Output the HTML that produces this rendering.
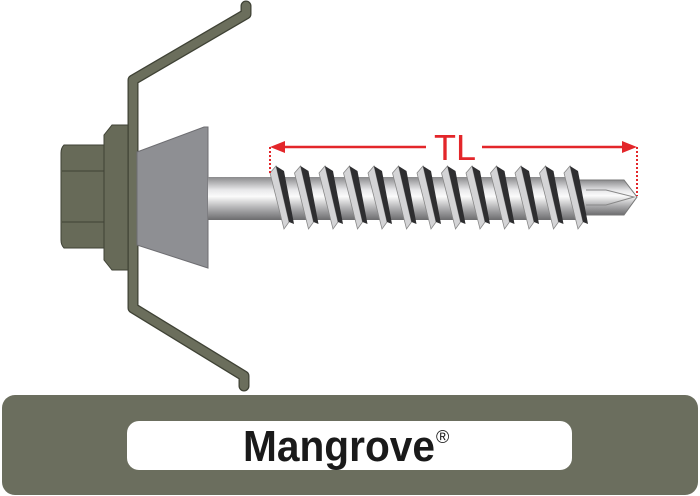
<!DOCTYPE html>
<html><head><style>
body{margin:0;width:700px;height:496px;background:#fff;overflow:hidden;position:relative}
</style></head><body>
<svg width="700" height="496" style="position:absolute;left:0;top:0">
<defs>
<linearGradient id="sh" x1="0" y1="0" x2="0" y2="1">
<stop offset="0" stop-color="#8a8a8c"/><stop offset="0.3" stop-color="#e8e8ea"/><stop offset="0.45" stop-color="#fbfbfb"/><stop offset="0.75" stop-color="#a9a9ab"/><stop offset="1" stop-color="#6c6c6e"/>
</linearGradient>
</defs>
<path d="M246,6 L246,14 L133,80 L133,308 L244,376 L244,386" fill="none" stroke="#3f4235" stroke-width="11" stroke-linejoin="round" stroke-linecap="round"/>
<path d="M246,6 L246,14 L133,80 L133,308 L244,376 L244,386" fill="none" stroke="#6b6e5c" stroke-width="8.5" stroke-linejoin="round" stroke-linecap="round"/>
<path d="M64,145 L106,145 L106,248 L64,248 Q61,245 61,240 L61,153 Q61,148 64,145Z" fill="#676a58" stroke="#3f4235" stroke-width="1"/>
<line x1="62" y1="171" x2="106" y2="171" stroke="#3f4235"/>
<line x1="62" y1="222" x2="106" y2="222" stroke="#3f4235"/>
<path d="M112,125 L128,125 L128,270 L112,270 L104,260 L104,135Z" fill="#676a58" stroke="#3f4235" stroke-width="1"/>
<polygon points="137,152 204,127 208,127 208,268 137,245" fill="#8e8f93" stroke="#6e6e72" stroke-width="1"/>
<rect x="208" y="177" width="370" height="43" fill="url(#sh)"/>
<path d="M576,180 L624,180 L637,197 L624,215 L576,215Z" fill="url(#sh)" stroke="#777" stroke-width="1"/>
<path d="M586,190 L606,190 L634,197 L606,205 L586,205" fill="none" stroke="#888" stroke-width="1"/>
<g>
<g id="t"><polygon points="270,173 276,166 289,222 284,229" fill="#d4d4d6" stroke="#888" stroke-width="0.8"/><polygon points="276,166 284,171 294,224 289,222" fill="#2e2e30"/></g>
<use href="#t" x="24.5"/><use href="#t" x="49"/><use href="#t" x="73.5"/><use href="#t" x="98"/><use href="#t" x="122.5"/><use href="#t" x="147"/><use href="#t" x="171.5"/><use href="#t" x="196"/><use href="#t" x="220.5"/><use href="#t" x="245"/><use href="#t" x="269.5"/><use href="#t" x="294"/>
</g>
<line x1="270" y1="147" x2="270" y2="174" stroke="#e3262a" stroke-width="2" stroke-dasharray="2,2"/>
<line x1="637" y1="147" x2="637" y2="196" stroke="#e3262a" stroke-width="2" stroke-dasharray="2,2"/>
<line x1="280" y1="147" x2="426" y2="147" stroke="#e3262a" stroke-width="2.5"/>
<line x1="482" y1="147" x2="628" y2="147" stroke="#e3262a" stroke-width="2.5"/>
<polygon points="270,147 285,141 285,153" fill="#e3262a"/>
<polygon points="637,147 622,141 622,153" fill="#e3262a"/>
<text x="455" y="160" text-anchor="middle" font-family="Liberation Sans, sans-serif" font-size="36" fill="#e3262a">TL</text>
<rect x="2" y="395" width="696" height="100" rx="13" fill="#6b6e5e"/>
<rect x="127" y="421" width="445" height="49" rx="12" fill="#fff"/>
<text x="243" y="461" font-family="Liberation Sans, sans-serif" font-weight="bold" font-size="44" fill="#1a1a1a" textLength="192" lengthAdjust="spacingAndGlyphs">Mangrove</text>
<text x="436" y="443" font-family="Liberation Sans, sans-serif" font-size="18" fill="#1a1a1a">®</text>
</svg>
</body></html>
